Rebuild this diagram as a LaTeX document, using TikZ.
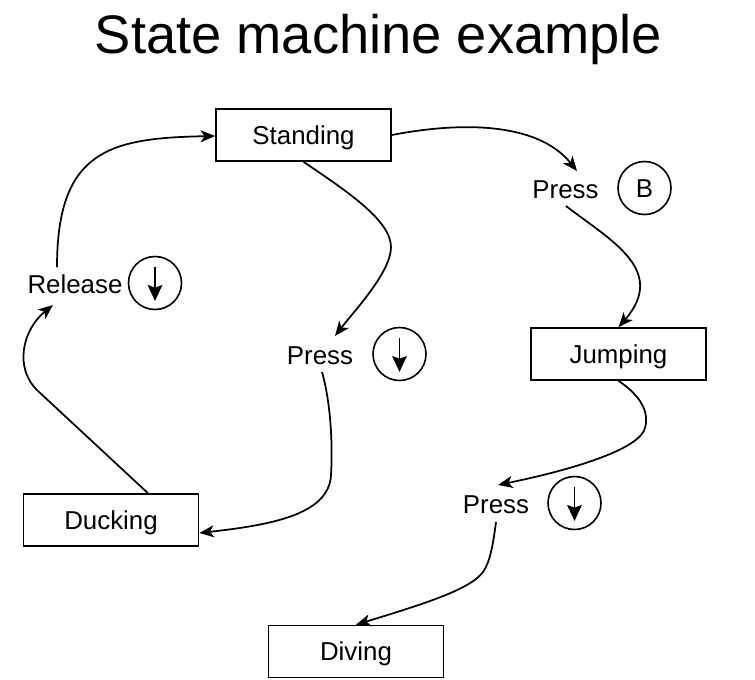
\documentclass[tikz,border=0pt]{standalone}
\usepackage{fontspec}
\setmainfont{Liberation Sans}
\usetikzlibrary{arrows.meta,calc}
\begin{document}
\begin{tikzpicture}[x=0.75pt,y=-0.75pt,
  lbl/.style={font=\fontsize{19.4pt}{23pt}\selectfont, inner sep=0pt, text height=13.9pt, text depth=0pt},
  statebox/.style={lbl, draw, line width=1.2pt, minimum width=131.25pt, minimum height=39pt},
  keycirc/.style={lbl, draw, circle, line width=1.2pt, minimum size=39.75pt},
  conn/.style={line width=1.3pt, -{Stealth[length=11pt,width=9pt,inset=3pt]}},
  keyarrow/.style={line width=1.3pt, -{Stealth[length=12pt,width=11pt,inset=2pt]}}
]
\useasboundingbox (0,0) rectangle (755,679);

\node[font=\fontsize{40.7pt}{48pt}\selectfont, inner sep=0pt, text height=29pt, text depth=0pt] (title) at (378.5,34.5) {State machine example};

\node[statebox] (standing) at (303.5,135) {Standing};
\node[statebox] (jumping) at (618.5,354) {Jumping};
\node[statebox] (ducking) at (111,520) {Ducking};
\node[statebox] (diving) at (356,651.5) {Diving};

\node[lbl] (pb) at (565.5,189) {Press};
\node[keycirc] (cb) at (644.5,188) {};
\node[lbl] at (cb) {B};
\node[lbl] (rel) at (75,284) {Release};
\node[keycirc] (cr) at (155,283) {};
\node[lbl] (pm) at (320,355) {Press};
\node[keycirc] (cm) at (399.5,354) {};
\node[lbl] (pbot) at (496,504) {Press};
\node[keycirc] (cbot) at (574.5,503) {};

\draw[keyarrow] ($(cr)+(0,-16)$) -- ($(cr)+(0,18)$);
\draw[keyarrow] ($(cm)+(0,-16)$) -- ($(cm)+(0,18)$);
\draw[keyarrow] ($(cbot)+(0,-16)$) -- ($(cbot)+(0,18)$);

\draw[conn] (standing.east) .. controls (470,120) and (540,125) .. ($(pb)+(11.5,-18)$);
\draw[conn] ($(pb)+(0.5,17)$) .. controls (610,240) and (668,270) .. (jumping.north);
\draw[conn] (standing.south) .. controls (345,190) and (391,220) .. (391,247) .. controls (391,272) and (355,310) .. ($(pm)+(15,-19)$);
\draw[conn] ($(pm)+(2,17)$) .. controls (330,400) and (333,440) .. (331,475) .. controls (329,515) and (270,525) .. ($(ducking.east)+(0,13)$);
\draw[conn] ($(ducking.north)+(37,0)$) -- (38,391) .. controls (14,369) and (22,330) .. ($(rel)+(-22,21)$);
\draw[conn] ($(rel)+(-18,-17)$) .. controls (57,150) and (110,138) .. ($(standing.west)+(0,1)$);
\draw[conn] (jumping.south) .. controls (638,394) and (650,410) .. (645,428) .. controls (640,448) and (580,468) .. ($(pbot)+(2,-19)$);
\draw[conn] ($(pbot)+(0,18)$) .. controls (493,545) and (490,562) .. (483,572) .. controls (470,590) and (420,605) .. (diving.north);
\end{tikzpicture}
\end{document}
